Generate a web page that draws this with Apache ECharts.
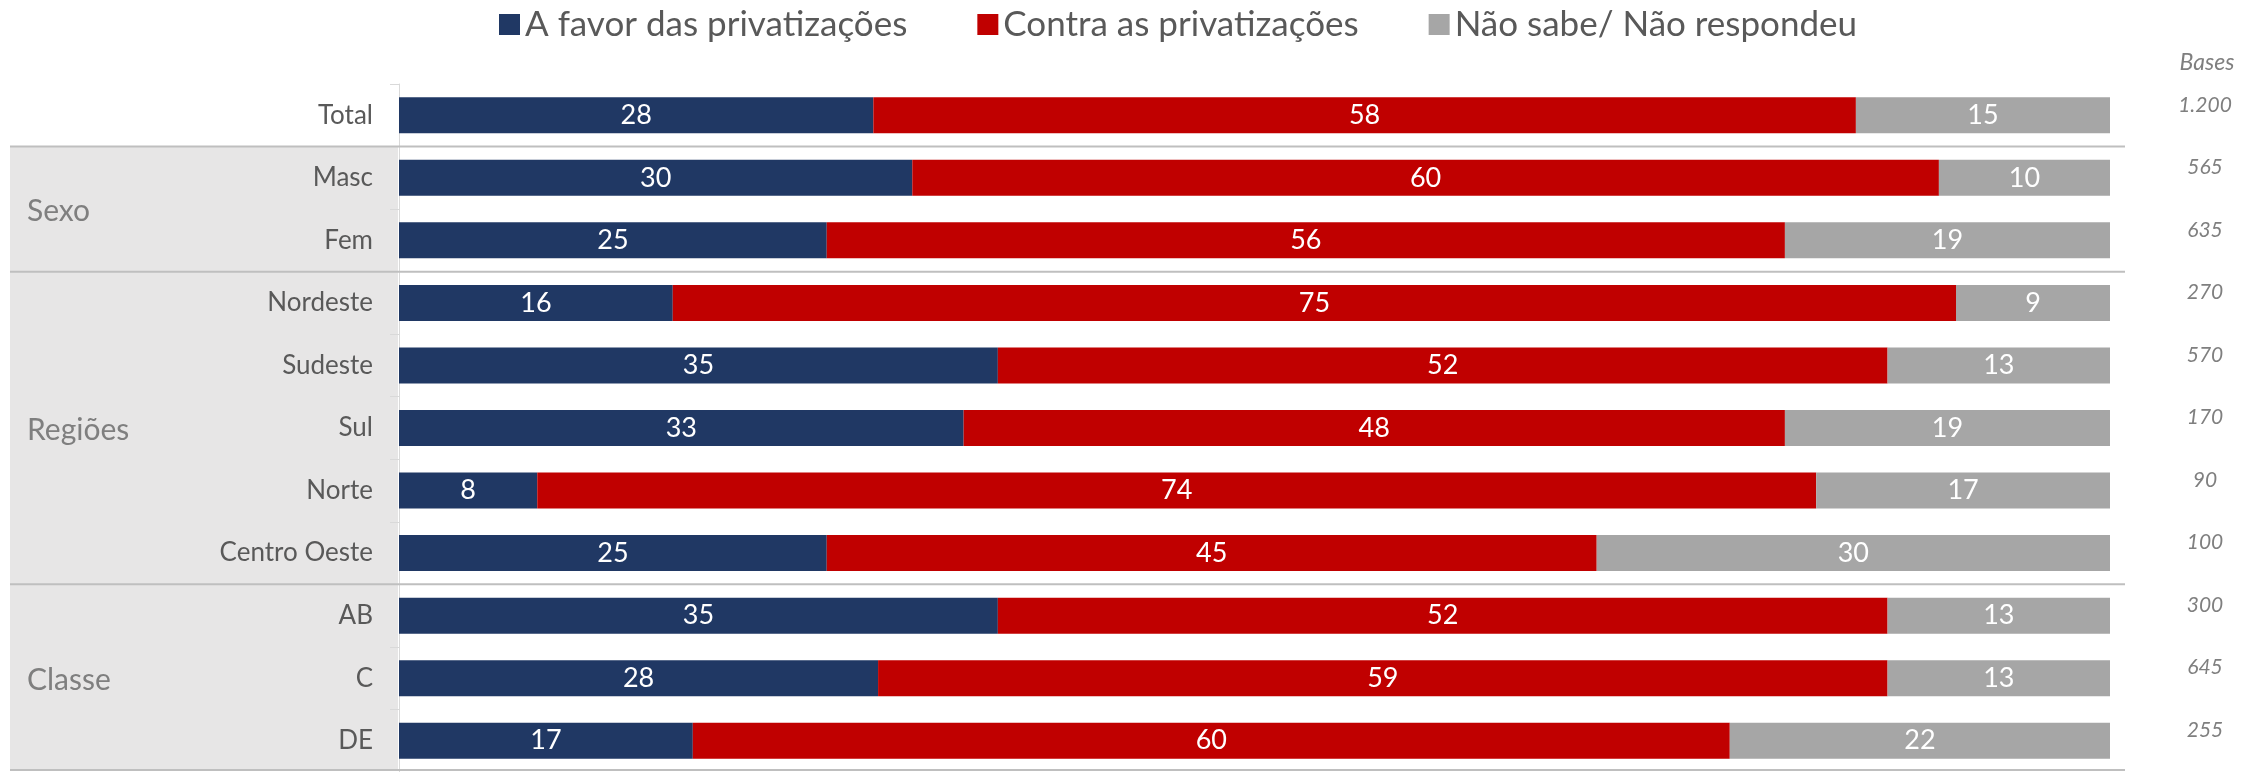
<!DOCTYPE html>
<html>
<head>
<meta charset="utf-8">
<script src="https://cdn.jsdelivr.net/npm/echarts@6/dist/echarts.min.js"></script>
<style>html,body{margin:0;padding:0;background:#fff}#c{width:2259px;height:772px}</style>
</head>
<body>
<div id="c"></div>
<script>
const categories = ['Total','Masc','Fem','Nordeste','Sudeste','Sul','Norte','Centro Oeste','AB','C','DE'];
const aFavor  = [28,30,25,16,35,33, 8,25,35,28,17];
const contra  = [58,60,56,75,52,48,74,45,52,59,60];
const naoSabe = [15,10,19, 9,13,19,17,30,13,13,22];
const bases   = ['1.200','565','635','270','570','170','90','100','300','645','255'];
const seriesNames = ['A favor das privatizações','Contra as privatizações','Não sabe/ Não respondeu'];
const groupNames = ['Sexo','Regiões','Classe'];
const groupFirst = [1,3,8];
const groupLast  = [2,7,10];
const basesTitle = 'Bases';

const colors = ['#203864','#C00000','#A6A6A6'];
const totals = categories.map((_, i) => aFavor[i] + contra[i] + naoSabe[i]);
const FONT = 'Lato, "Open Sans", sans-serif';

function mk(arr, idx) {
  return {
    name: seriesNames[idx],
    type: 'bar',
    stack: 'all',
    barWidth: 36,
    itemStyle: { color: colors[idx] },
    label: {
      show: true, position: 'inside', color: '#fff',
      fontSize: 27, fontFamily: FONT,
      formatter: p => p.data.raw
    },
    data: arr.map((v, i) => ({ value: v / totals[i] * 100, raw: v }))
  };
}

const chart = echarts.init(document.getElementById('c'), null, { renderer: 'canvas' });
chart.setOption({
  animation: false,
  color: colors,
  legend: {
    left: 494, top: 2,
    itemWidth: 21, itemHeight: 21, itemGap: 70,
    icon: 'rect',
    textStyle: { fontSize: 35, color: '#595959', fontFamily: FONT, padding: [0,0,0,0] },
    data: seriesNames
  },
  title: {
    text: basesTitle, left: 2202, top: 46, textAlign: 'center',
    textStyle: { fontSize: 23, fontStyle: 'italic', fontWeight: 'normal', color: '#7f7f7f', fontFamily: FONT }
  },
  grid: { left: 399, right: 149, top: 84, height: 690 },
  xAxis: { type: 'value', min: 0, max: 100, show: false },
  yAxis: [{
    type: 'category', inverse: true, data: categories,
    axisLine: { lineStyle: { color: '#d9d9d9', width: 1 } },
    axisTick: { show: true, length: 9, lineStyle: { color: '#d9d9d9' } },
    axisLabel: { color: '#595959', fontSize: 26, fontFamily: FONT, margin: 26 }
  }, {
    type: 'category', inverse: true, data: bases, position: 'right',
    axisLine: { show: false }, axisTick: { show: false },
    axisLabel: { color: '#7f7f7f', fontSize: 21, fontStyle: 'italic', fontFamily: FONT,
                 align: 'center', margin: 95, verticalAlign: 'bottom', lineHeight: 21 }
  }],
  series: [mk(aFavor,0), mk(contra,1), mk(naoSabe,2)]
});

const yPix = i => chart.convertToPixel({ yAxisIndex: 0 }, i);
const half = (yPix(1) - yPix(0)) / 2;
const bottomY = 770;
const panelTop = yPix(groupFirst[0]) - half;
const elements = [{
  type: 'rect', z: -10, silent: true,
  shape: { x: 10, y: panelTop, width: 388, height: bottomY - panelTop },
  style: { fill: '#e7e6e6' }
}];
groupFirst.forEach((f, g) => {
  const yTop = yPix(f) - half;
  elements.push({ type: 'line', z: 5, silent: true,
    shape: { x1: 10, y1: yTop, x2: 2125, y2: yTop },
    style: { stroke: '#bfbfbf', lineWidth: 2 } });
  const mid = (yPix(f) + yPix(groupLast[g])) / 2;
  elements.push({ type: 'text', z: 5, silent: true, x: 27, y: mid + 2,
    style: { text: groupNames[g], fill: '#7f7f7f', fontSize: 30, fontFamily: FONT, verticalAlign: 'middle', align: 'left' } });
});
elements.push({ type: 'line', z: 5, silent: true,
  shape: { x1: 10, y1: bottomY, x2: 2125, y2: bottomY },
  style: { stroke: '#bfbfbf', lineWidth: 2 } });
chart.setOption({ graphic: { elements } });
</script>
</body>
</html>
